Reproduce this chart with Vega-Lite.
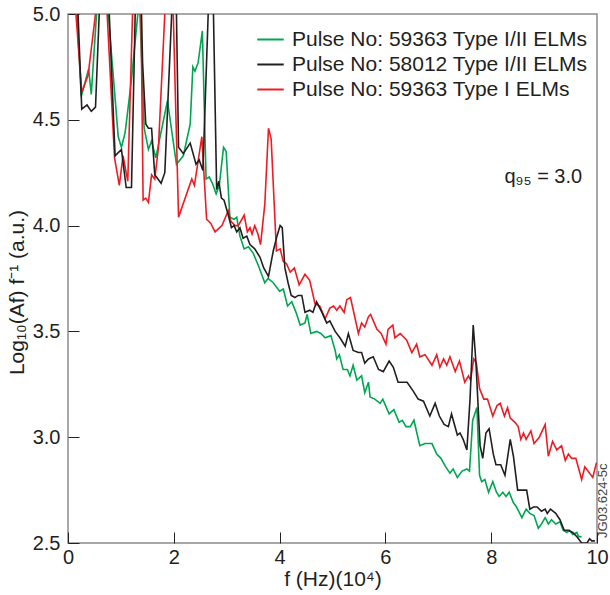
{
  "$schema": "https://vega.github.io/schema/vega-lite/v6.json",
  "width": 529,
  "height": 529,
  "autosize": {"type": "none"},
  "padding": {"left": 68, "top": 14, "right": 13, "bottom": 52},
  "background": "white",
  "config": {
    "view": {"stroke": "#8c8c8c", "strokeWidth": 1.5},
    "font": "Liberation Sans",
    "axis": {
      "domain": false,
      "grid": false,
      "tickSize": -11,
      "tickColor": "#231f20",
      "tickWidth": 1,
      "labelFont": "Liberation Sans",
      "labelFontSize": 20,
      "labelColor": "#231f20",
      "titleFont": "Liberation Sans",
      "titleFontSize": 21,
      "titleFontWeight": "normal",
      "titleColor": "#231f20"
    }
  },
  "layer": [
    {
      "data": {
        "values": [
          {"s": "g", "f": 0.10, "v": 5.4}, {"s": "g", "f": 0.17, "v": 5.0}, {"s": "g", "f": 0.25, "v": 4.61}, {"s": "g", "f": 0.39, "v": 4.74}, {"s": "g", "f": 0.44, "v": 4.62}, {"s": "g", "f": 0.54, "v": 5.0}, {"s": "g", "f": 0.65, "v": 5.5}, {"s": "g", "f": 0.76, "v": 5.0},
          {"s": "g", "f": 0.95, "v": 4.42}, {"s": "g", "f": 1.01, "v": 4.37}, {"s": "g", "f": 1.08, "v": 4.44}, {"s": "g", "f": 1.20, "v": 4.69}, {"s": "g", "f": 1.32, "v": 5.0}, {"s": "g", "f": 1.34, "v": 5.2}, {"s": "g", "f": 1.36, "v": 5.0},
          {"s": "g", "f": 1.44, "v": 4.46}, {"s": "g", "f": 1.52, "v": 4.36}, {"s": "g", "f": 1.58, "v": 4.40}, {"s": "g", "f": 1.66, "v": 4.32}, {"s": "g", "f": 1.88, "v": 4.59}, {"s": "g", "f": 2.05, "v": 4.29}, {"s": "g", "f": 2.18, "v": 4.33}, {"s": "g", "f": 2.31, "v": 4.48},
          {"s": "g", "f": 2.36, "v": 4.75}, {"s": "g", "f": 2.40, "v": 4.73}, {"s": "g", "f": 2.46, "v": 4.77}, {"s": "g", "f": 2.54, "v": 4.92}, {"s": "g", "f": 2.61, "v": 4.22}, {"s": "g", "f": 2.67, "v": 4.23}, {"s": "g", "f": 2.73, "v": 4.20}, {"s": "g", "f": 2.80, "v": 4.15},
          {"s": "g", "f": 2.86, "v": 4.19}, {"s": "g", "f": 2.94, "v": 4.37}, {"s": "g", "f": 2.99, "v": 4.35}, {"s": "g", "f": 3.06, "v": 4.04}, {"s": "g", "f": 3.14, "v": 4.03}, {"s": "g", "f": 3.19, "v": 4.04}, {"s": "g", "f": 3.25, "v": 3.95}, {"s": "g", "f": 3.33, "v": 3.89},
          {"s": "g", "f": 3.41, "v": 3.90}, {"s": "g", "f": 3.50, "v": 3.87}, {"s": "g", "f": 3.60, "v": 3.81}, {"s": "g", "f": 3.72, "v": 3.73}, {"s": "g", "f": 3.78, "v": 3.75}, {"s": "g", "f": 3.88, "v": 3.73}, {"s": "g", "f": 4.00, "v": 3.69}, {"s": "g", "f": 4.07, "v": 3.70},
          {"s": "g", "f": 4.15, "v": 3.62}, {"s": "g", "f": 4.23, "v": 3.64}, {"s": "g", "f": 4.31, "v": 3.59}, {"s": "g", "f": 4.39, "v": 3.53}, {"s": "g", "f": 4.48, "v": 3.54}, {"s": "g", "f": 4.52, "v": 3.58}, {"s": "g", "f": 4.59, "v": 3.49}, {"s": "g", "f": 4.70, "v": 3.50},
          {"s": "g", "f": 4.78, "v": 3.49}, {"s": "g", "f": 4.86, "v": 3.47}, {"s": "g", "f": 4.97, "v": 3.48}, {"s": "g", "f": 5.05, "v": 3.41}, {"s": "g", "f": 5.08, "v": 3.37}, {"s": "g", "f": 5.13, "v": 3.39}, {"s": "g", "f": 5.20, "v": 3.32}, {"s": "g", "f": 5.28, "v": 3.32},
          {"s": "g", "f": 5.33, "v": 3.29}, {"s": "g", "f": 5.39, "v": 3.34}, {"s": "g", "f": 5.46, "v": 3.27}, {"s": "g", "f": 5.55, "v": 3.29}, {"s": "g", "f": 5.61, "v": 3.21}, {"s": "g", "f": 5.68, "v": 3.26}, {"s": "g", "f": 5.71, "v": 3.19}, {"s": "g", "f": 5.80, "v": 3.18},
          {"s": "g", "f": 5.90, "v": 3.16}, {"s": "g", "f": 5.95, "v": 3.18}, {"s": "g", "f": 6.07, "v": 3.11}, {"s": "g", "f": 6.16, "v": 3.13}, {"s": "g", "f": 6.26, "v": 3.07}, {"s": "g", "f": 6.32, "v": 3.08}, {"s": "g", "f": 6.39, "v": 3.05}, {"s": "g", "f": 6.47, "v": 3.05},
          {"s": "g", "f": 6.54, "v": 3.08}, {"s": "g", "f": 6.65, "v": 2.96}, {"s": "g", "f": 6.75, "v": 2.97}, {"s": "g", "f": 6.88, "v": 2.97}, {"s": "g", "f": 6.97, "v": 2.92}, {"s": "g", "f": 7.05, "v": 2.90}, {"s": "g", "f": 7.14, "v": 2.86}, {"s": "g", "f": 7.22, "v": 2.83},
          {"s": "g", "f": 7.28, "v": 2.85}, {"s": "g", "f": 7.36, "v": 2.81}, {"s": "g", "f": 7.45, "v": 2.84}, {"s": "g", "f": 7.54, "v": 2.85}, {"s": "g", "f": 7.59, "v": 2.84}, {"s": "g", "f": 7.65, "v": 3.08}, {"s": "g", "f": 7.73, "v": 3.14}, {"s": "g", "f": 7.78, "v": 2.82},
          {"s": "g", "f": 7.82, "v": 2.79}, {"s": "g", "f": 7.88, "v": 2.80}, {"s": "g", "f": 7.95, "v": 2.74}, {"s": "g", "f": 8.03, "v": 2.79}, {"s": "g", "f": 8.10, "v": 2.74}, {"s": "g", "f": 8.15, "v": 2.72}, {"s": "g", "f": 8.22, "v": 2.74}, {"s": "g", "f": 8.28, "v": 2.72},
          {"s": "g", "f": 8.34, "v": 2.74}, {"s": "g", "f": 8.42, "v": 2.69}, {"s": "g", "f": 8.48, "v": 2.67}, {"s": "g", "f": 8.58, "v": 2.62}, {"s": "g", "f": 8.66, "v": 2.66}, {"s": "g", "f": 8.73, "v": 2.64}, {"s": "g", "f": 8.81, "v": 2.63}, {"s": "g", "f": 8.89, "v": 2.57},
          {"s": "g", "f": 8.95, "v": 2.59}, {"s": "g", "f": 9.02, "v": 2.62}, {"s": "g", "f": 9.08, "v": 2.59}, {"s": "g", "f": 9.14, "v": 2.61}, {"s": "g", "f": 9.22, "v": 2.59}, {"s": "g", "f": 9.30, "v": 2.60}, {"s": "g", "f": 9.36, "v": 2.56}, {"s": "g", "f": 9.43, "v": 2.55},
          {"s": "g", "f": 9.48, "v": 2.56}, {"s": "g", "f": 9.54, "v": 2.54}, {"s": "g", "f": 9.62, "v": 2.55}, {"s": "g", "f": 9.65, "v": 2.53}, {"s": "g", "f": 9.71, "v": 2.53},

          {"s": "r", "f": 0.08, "v": 5.4}, {"s": "r", "f": 0.15, "v": 5.0}, {"s": "r", "f": 0.26, "v": 4.63}, {"s": "r", "f": 0.38, "v": 4.71}, {"s": "r", "f": 0.52, "v": 5.0}, {"s": "r", "f": 0.62, "v": 5.5}, {"s": "r", "f": 0.74, "v": 5.0},
          {"s": "r", "f": 0.88, "v": 4.32}, {"s": "r", "f": 0.97, "v": 4.19}, {"s": "r", "f": 1.04, "v": 4.33}, {"s": "r", "f": 1.13, "v": 4.21}, {"s": "r", "f": 1.22, "v": 5.0}, {"s": "r", "f": 1.30, "v": 5.4}, {"s": "r", "f": 1.38, "v": 5.0},
          {"s": "r", "f": 1.42, "v": 4.12}, {"s": "r", "f": 1.47, "v": 4.13}, {"s": "r", "f": 1.52, "v": 4.11}, {"s": "r", "f": 1.58, "v": 4.24}, {"s": "r", "f": 1.64, "v": 4.22}, {"s": "r", "f": 1.71, "v": 4.37}, {"s": "r", "f": 1.83, "v": 5.0}, {"s": "r", "f": 1.91, "v": 5.3}, {"s": "r", "f": 1.99, "v": 5.0},
          {"s": "r", "f": 2.09, "v": 4.04}, {"s": "r", "f": 2.34, "v": 4.22}, {"s": "r", "f": 2.39, "v": 4.19}, {"s": "r", "f": 2.53, "v": 4.42}, {"s": "r", "f": 2.62, "v": 4.03}, {"s": "r", "f": 2.70, "v": 4.01}, {"s": "r", "f": 2.78, "v": 3.97}, {"s": "r", "f": 2.91, "v": 4.00},
          {"s": "r", "f": 3.03, "v": 4.07}, {"s": "r", "f": 3.08, "v": 4.02}, {"s": "r", "f": 3.16, "v": 4.00}, {"s": "r", "f": 3.22, "v": 4.00}, {"s": "r", "f": 3.33, "v": 4.05}, {"s": "r", "f": 3.39, "v": 3.97}, {"s": "r", "f": 3.44, "v": 3.99}, {"s": "r", "f": 3.48, "v": 3.96},
          {"s": "r", "f": 3.53, "v": 4.00}, {"s": "r", "f": 3.59, "v": 3.96}, {"s": "r", "f": 3.64, "v": 3.91}, {"s": "r", "f": 3.72, "v": 4.10}, {"s": "r", "f": 3.79, "v": 4.46}, {"s": "r", "f": 3.84, "v": 4.41}, {"s": "r", "f": 3.94, "v": 3.88}, {"s": "r", "f": 4.01, "v": 3.89},
          {"s": "r", "f": 4.07, "v": 3.83}, {"s": "r", "f": 4.13, "v": 3.82}, {"s": "r", "f": 4.20, "v": 3.78}, {"s": "r", "f": 4.28, "v": 3.80}, {"s": "r", "f": 4.37, "v": 3.72}, {"s": "r", "f": 4.48, "v": 3.77}, {"s": "r", "f": 4.57, "v": 3.74}, {"s": "r", "f": 4.67, "v": 3.63},
          {"s": "r", "f": 4.76, "v": 3.62}, {"s": "r", "f": 4.86, "v": 3.56}, {"s": "r", "f": 4.95, "v": 3.61}, {"s": "r", "f": 5.02, "v": 3.62}, {"s": "r", "f": 5.08, "v": 3.60}, {"s": "r", "f": 5.14, "v": 3.62}, {"s": "r", "f": 5.22, "v": 3.59}, {"s": "r", "f": 5.27, "v": 3.65},
          {"s": "r", "f": 5.34, "v": 3.66}, {"s": "r", "f": 5.49, "v": 3.49}, {"s": "r", "f": 5.55, "v": 3.54}, {"s": "r", "f": 5.61, "v": 3.52}, {"s": "r", "f": 5.68, "v": 3.57}, {"s": "r", "f": 5.72, "v": 3.58}, {"s": "r", "f": 5.84, "v": 3.51}, {"s": "r", "f": 5.92, "v": 3.49},
          {"s": "r", "f": 6.01, "v": 3.44}, {"s": "r", "f": 6.05, "v": 3.51}, {"s": "r", "f": 6.14, "v": 3.53}, {"s": "r", "f": 6.18, "v": 3.47}, {"s": "r", "f": 6.28, "v": 3.49}, {"s": "r", "f": 6.40, "v": 3.46}, {"s": "r", "f": 6.50, "v": 3.40}, {"s": "r", "f": 6.59, "v": 3.44},
          {"s": "r", "f": 6.65, "v": 3.38}, {"s": "r", "f": 6.75, "v": 3.39}, {"s": "r", "f": 6.88, "v": 3.34}, {"s": "r", "f": 6.97, "v": 3.39}, {"s": "r", "f": 7.03, "v": 3.33}, {"s": "r", "f": 7.10, "v": 3.37}, {"s": "r", "f": 7.16, "v": 3.34}, {"s": "r", "f": 7.22, "v": 3.38},
          {"s": "r", "f": 7.32, "v": 3.31}, {"s": "r", "f": 7.40, "v": 3.36}, {"s": "r", "f": 7.50, "v": 3.26}, {"s": "r", "f": 7.57, "v": 3.29}, {"s": "r", "f": 7.61, "v": 3.27}, {"s": "r", "f": 7.67, "v": 3.37}, {"s": "r", "f": 7.72, "v": 3.35}, {"s": "r", "f": 7.78, "v": 3.23},
          {"s": "r", "f": 7.86, "v": 3.18}, {"s": "r", "f": 7.93, "v": 3.18}, {"s": "r", "f": 8.03, "v": 3.10}, {"s": "r", "f": 8.11, "v": 3.15}, {"s": "r", "f": 8.17, "v": 3.16}, {"s": "r", "f": 8.25, "v": 3.10}, {"s": "r", "f": 8.31, "v": 3.14}, {"s": "r", "f": 8.36, "v": 3.09},
          {"s": "r", "f": 8.45, "v": 3.07}, {"s": "r", "f": 8.51, "v": 3.05}, {"s": "r", "f": 8.56, "v": 2.99}, {"s": "r", "f": 8.61, "v": 3.02}, {"s": "r", "f": 8.66, "v": 2.99}, {"s": "r", "f": 8.75, "v": 3.03}, {"s": "r", "f": 8.81, "v": 2.97}, {"s": "r", "f": 8.91, "v": 3.00},
          {"s": "r", "f": 9.02, "v": 3.06}, {"s": "r", "f": 9.08, "v": 2.91}, {"s": "r", "f": 9.16, "v": 2.98}, {"s": "r", "f": 9.24, "v": 2.94}, {"s": "r", "f": 9.33, "v": 2.96}, {"s": "r", "f": 9.40, "v": 2.89}, {"s": "r", "f": 9.46, "v": 2.92}, {"s": "r", "f": 9.52, "v": 2.90},
          {"s": "r", "f": 9.60, "v": 2.90}, {"s": "r", "f": 9.71, "v": 2.80}, {"s": "r", "f": 9.77, "v": 2.86}, {"s": "r", "f": 9.92, "v": 2.81}, {"s": "r", "f": 9.99, "v": 2.88},

          {"s": "k", "f": 0.10, "v": 5.4}, {"s": "k", "f": 0.19, "v": 5.0}, {"s": "k", "f": 0.26, "v": 4.55}, {"s": "k", "f": 0.36, "v": 4.57}, {"s": "k", "f": 0.44, "v": 4.54}, {"s": "k", "f": 0.52, "v": 4.56}, {"s": "k", "f": 0.59, "v": 5.0}, {"s": "k", "f": 0.70, "v": 5.5}, {"s": "k", "f": 0.78, "v": 5.0},
          {"s": "k", "f": 0.89, "v": 4.33}, {"s": "k", "f": 1.01, "v": 4.36}, {"s": "k", "f": 1.10, "v": 4.18}, {"s": "k", "f": 1.20, "v": 4.18}, {"s": "k", "f": 1.27, "v": 5.0}, {"s": "k", "f": 1.33, "v": 5.3}, {"s": "k", "f": 1.39, "v": 5.0},
          {"s": "k", "f": 1.41, "v": 4.77}, {"s": "k", "f": 1.47, "v": 4.48}, {"s": "k", "f": 1.52, "v": 4.46}, {"s": "k", "f": 1.58, "v": 4.46}, {"s": "k", "f": 1.64, "v": 4.24}, {"s": "k", "f": 1.76, "v": 4.20}, {"s": "k", "f": 1.83, "v": 4.25}, {"s": "k", "f": 1.96, "v": 5.0}, {"s": "k", "f": 2.00, "v": 5.2}, {"s": "k", "f": 2.05, "v": 5.0},
          {"s": "k", "f": 2.09, "v": 4.37}, {"s": "k", "f": 2.18, "v": 4.34}, {"s": "k", "f": 2.31, "v": 4.39}, {"s": "k", "f": 2.42, "v": 4.29}, {"s": "k", "f": 2.48, "v": 4.31}, {"s": "k", "f": 2.55, "v": 4.26}, {"s": "k", "f": 2.65, "v": 5.0}, {"s": "k", "f": 2.70, "v": 5.4}, {"s": "k", "f": 2.75, "v": 5.0},
          {"s": "k", "f": 2.81, "v": 4.17}, {"s": "k", "f": 2.85, "v": 4.21}, {"s": "k", "f": 2.90, "v": 4.13}, {"s": "k", "f": 2.95, "v": 4.12}, {"s": "k", "f": 3.03, "v": 4.05}, {"s": "k", "f": 3.09, "v": 3.99}, {"s": "k", "f": 3.14, "v": 4.00}, {"s": "k", "f": 3.19, "v": 3.97},
          {"s": "k", "f": 3.25, "v": 3.99}, {"s": "k", "f": 3.31, "v": 3.94}, {"s": "k", "f": 3.38, "v": 3.95}, {"s": "k", "f": 3.44, "v": 3.91}, {"s": "k", "f": 3.53, "v": 3.89}, {"s": "k", "f": 3.63, "v": 3.85}, {"s": "k", "f": 3.70, "v": 3.80}, {"s": "k", "f": 3.79, "v": 3.76},
          {"s": "k", "f": 3.88, "v": 3.88}, {"s": "k", "f": 3.95, "v": 3.95}, {"s": "k", "f": 4.01, "v": 4.00}, {"s": "k", "f": 4.05, "v": 3.99}, {"s": "k", "f": 4.10, "v": 3.80}, {"s": "k", "f": 4.16, "v": 3.73}, {"s": "k", "f": 4.22, "v": 3.67}, {"s": "k", "f": 4.29, "v": 3.66},
          {"s": "k", "f": 4.35, "v": 3.67}, {"s": "k", "f": 4.42, "v": 3.67}, {"s": "k", "f": 4.48, "v": 3.59}, {"s": "k", "f": 4.57, "v": 3.60}, {"s": "k", "f": 4.63, "v": 3.59}, {"s": "k", "f": 4.70, "v": 3.64}, {"s": "k", "f": 4.80, "v": 3.59}, {"s": "k", "f": 4.89, "v": 3.54},
          {"s": "k", "f": 4.95, "v": 3.55}, {"s": "k", "f": 5.05, "v": 3.50}, {"s": "k", "f": 5.14, "v": 3.47}, {"s": "k", "f": 5.24, "v": 3.43}, {"s": "k", "f": 5.30, "v": 3.49}, {"s": "k", "f": 5.39, "v": 3.41}, {"s": "k", "f": 5.49, "v": 3.40}, {"s": "k", "f": 5.55, "v": 3.40},
          {"s": "k", "f": 5.61, "v": 3.35}, {"s": "k", "f": 5.68, "v": 3.37}, {"s": "k", "f": 5.77, "v": 3.38}, {"s": "k", "f": 5.87, "v": 3.32}, {"s": "k", "f": 5.96, "v": 3.31}, {"s": "k", "f": 6.07, "v": 3.36}, {"s": "k", "f": 6.15, "v": 3.33}, {"s": "k", "f": 6.24, "v": 3.26},
          {"s": "k", "f": 6.32, "v": 3.26}, {"s": "k", "f": 6.41, "v": 3.26}, {"s": "k", "f": 6.52, "v": 3.22}, {"s": "k", "f": 6.62, "v": 3.18}, {"s": "k", "f": 6.72, "v": 3.17}, {"s": "k", "f": 6.84, "v": 3.10}, {"s": "k", "f": 6.94, "v": 3.16}, {"s": "k", "f": 7.02, "v": 3.10},
          {"s": "k", "f": 7.11, "v": 3.06}, {"s": "k", "f": 7.19, "v": 3.05}, {"s": "k", "f": 7.25, "v": 3.11}, {"s": "k", "f": 7.36, "v": 3.01}, {"s": "k", "f": 7.41, "v": 3.02}, {"s": "k", "f": 7.47, "v": 2.99}, {"s": "k", "f": 7.54, "v": 2.94}, {"s": "k", "f": 7.60, "v": 3.18},
          {"s": "k", "f": 7.66, "v": 3.53}, {"s": "k", "f": 7.71, "v": 3.36}, {"s": "k", "f": 7.79, "v": 2.96}, {"s": "k", "f": 7.84, "v": 2.90}, {"s": "k", "f": 7.90, "v": 3.02}, {"s": "k", "f": 7.96, "v": 3.04}, {"s": "k", "f": 8.04, "v": 2.92}, {"s": "k", "f": 8.09, "v": 2.87},
          {"s": "k", "f": 8.18, "v": 2.87}, {"s": "k", "f": 8.26, "v": 2.82}, {"s": "k", "f": 8.36, "v": 2.99}, {"s": "k", "f": 8.42, "v": 2.91}, {"s": "k", "f": 8.50, "v": 2.75}, {"s": "k", "f": 8.67, "v": 2.75}, {"s": "k", "f": 8.73, "v": 2.66}, {"s": "k", "f": 8.80, "v": 2.67},
          {"s": "k", "f": 8.87, "v": 2.67}, {"s": "k", "f": 8.95, "v": 2.65}, {"s": "k", "f": 9.02, "v": 2.66}, {"s": "k", "f": 9.06, "v": 2.64}, {"s": "k", "f": 9.12, "v": 2.66}, {"s": "k", "f": 9.22, "v": 2.64}, {"s": "k", "f": 9.30, "v": 2.61}, {"s": "k", "f": 9.38, "v": 2.56},
          {"s": "k", "f": 9.46, "v": 2.56}, {"s": "k", "f": 9.54, "v": 2.55}, {"s": "k", "f": 9.62, "v": 2.53}, {"s": "k", "f": 9.71, "v": 2.50}, {"s": "k", "f": 9.81, "v": 2.50}, {"s": "k", "f": 9.86, "v": 2.52}, {"s": "k", "f": 9.90, "v": 2.51}, {"s": "k", "f": 9.96, "v": 2.51}
        ]
      },
      "mark": {"type": "line", "clip": true, "strokeWidth": 1.6},
      "encoding": {
        "x": {
          "field": "f", "type": "quantitative",
          "scale": {"domain": [0, 10], "nice": false, "zero": false},
          "axis": {
            "values": [0, 2, 4, 6, 8, 10], "format": "d", "labelFlush": false,
            "labelPadding": 15, "title": "f (Hz)(10⁴)",
            "titleX": 264.5, "titleY": 42, "titleBaseline": "alphabetic", "titleAlign": "center"
          }
        },
        "y": {
          "field": "v", "type": "quantitative",
          "scale": {"domain": [2.5, 5], "nice": false, "zero": false},
          "axis": {
            "values": [2.5, 3, 3.5, 4, 4.5, 5], "format": ".1f", "labelFlush": false,
            "labelPadding": 19, "title": "Log₁₀(Af) f⁻¹ (a.u.)",
            "titleX": -45, "titleY": 278, "titleBaseline": "alphabetic", "titleAlign": "center", "titleAngle": -90
          }
        },
        "color": {
          "field": "s", "type": "nominal",
          "scale": {"domain": ["g", "k", "r"], "range": ["#00a651", "#231f20", "#ed1c24"]},
          "legend": {
            "title": null,
            "orient": "none",
            "legendX": 188,
            "legendY": 11,
            "padding": 0,
            "symbolType": "stroke",
            "symbolSize": 700,
            "symbolStrokeWidth": 2,
            "labelFontSize": 21,
            "labelFont": "Liberation Sans",
            "labelColor": "#231f20",
            "labelOffset": 7,
            "rowPadding": 0,
            "labelLimit": 400,
            "labelExpr": "datum.label == 'g' ? 'Pulse No: 59363 Type I/II ELMs' : datum.label == 'k' ? 'Pulse No: 58012 Type I/II ELMs' : 'Pulse No: 59363 Type I ELMs'"
          }
        },
        "order": {"field": "f", "type": "quantitative"}
      }
    },
    {
      "data": {"values": [{"f": 9.72, "v": 4.23, "t": "q₉₅ = 3.0"}]},
      "mark": {"type": "text", "align": "right", "baseline": "middle", "fontSize": 20, "font": "Liberation Sans", "color": "#231f20"},
      "encoding": {
        "x": {"field": "f", "type": "quantitative"},
        "y": {"field": "v", "type": "quantitative"},
        "text": {"field": "t"}
      }
    },
    {
      "data": {"values": [{"f": 10.11, "v": 2.70, "t": "JG03.624-5c"}]},
      "mark": {"type": "text", "align": "center", "baseline": "middle", "angle": 270, "fontSize": 13, "font": "Liberation Sans", "color": "#444444", "clip": false},
      "encoding": {
        "x": {"field": "f", "type": "quantitative"},
        "y": {"field": "v", "type": "quantitative"},
        "text": {"field": "t"}
      }
    }
  ]
}
